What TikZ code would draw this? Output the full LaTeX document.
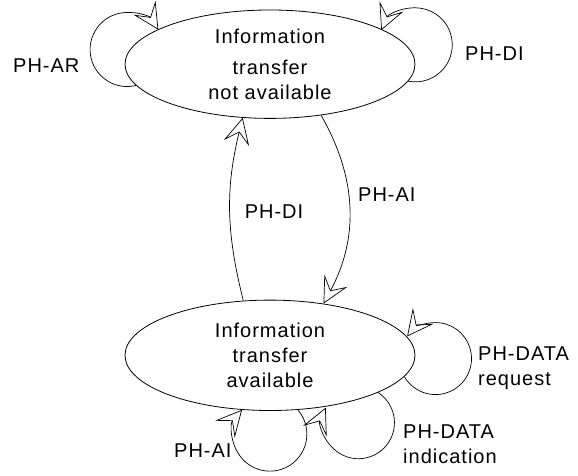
\documentclass[tikz,border=0pt]{standalone}
\usepackage{fontspec}
\setmainfont{Liberation Sans}[LetterSpace=5]
\usetikzlibrary{arrows.meta,shapes.geometric}
\begin{document}
\begin{tikzpicture}[x=1pt,y=1pt,
  txt/.style={font=\fontsize{20pt}{25pt}\selectfont},
  state/.style={ellipse, draw, line width=0.8pt, inner sep=0pt, minimum width=290pt, align=center, txt},
  lbl/.style={inner sep=0pt, txt},
  tr/.style={draw, line width=0.7pt, -{Stealth[open,length=26pt,width=26pt,inset=11pt]}}]
\useasboundingbox (0,0) rectangle (578,475);
\node[state, minimum height=108.4pt] (na) at (270,410.8) {Information\\[6pt]transfer\\not available};
\node[state, minimum height=110.4pt] (av) at (270,119.7) {Information\\transfer\\available};
% loops on the upper state
\draw[tr] (na.189) arc[start angle=-76, end angle=-327.7, radius=37];
\draw[tr] (na.353) arc[start angle=-101, end angle=156.8, radius=37];
% transitions between the states
\draw[tr] (av.116.4) to[bend left=14] (na.243.5);
\draw[tr] (na.315.7) to[bend left=29] (av.44.6);
% loops on the lower state
\draw[tr] (av.351) arc[start angle=-150, end angle=142, radius=36];
\draw[tr] (av.341.6) arc[start angle=57, end angle=-204.7, radius=36];
\draw[tr] (av.297.7) arc[start angle=41, end angle=-221.3, radius=37];
% labels
\node[lbl, anchor=west] (lar) at (13,409) {PH-AR};
\node[lbl, anchor=west] (ldi1) at (465,421.5) {PH-DI};
\node[lbl] (ldi2) at (274,263) {PH-DI};
\node[lbl, anchor=west] (lai1) at (358,280.5) {PH-AI};
\node[lbl, anchor=west] (lai2) at (174,24.5) {PH-AI};
\node[lbl, anchor=north west, align=left] (lreq) at (478,128) {PH-DATA\\request};
\node[lbl, anchor=north west, align=left] (lind) at (403,50) {PH-DATA\\indication};
\end{tikzpicture}
\end{document}
